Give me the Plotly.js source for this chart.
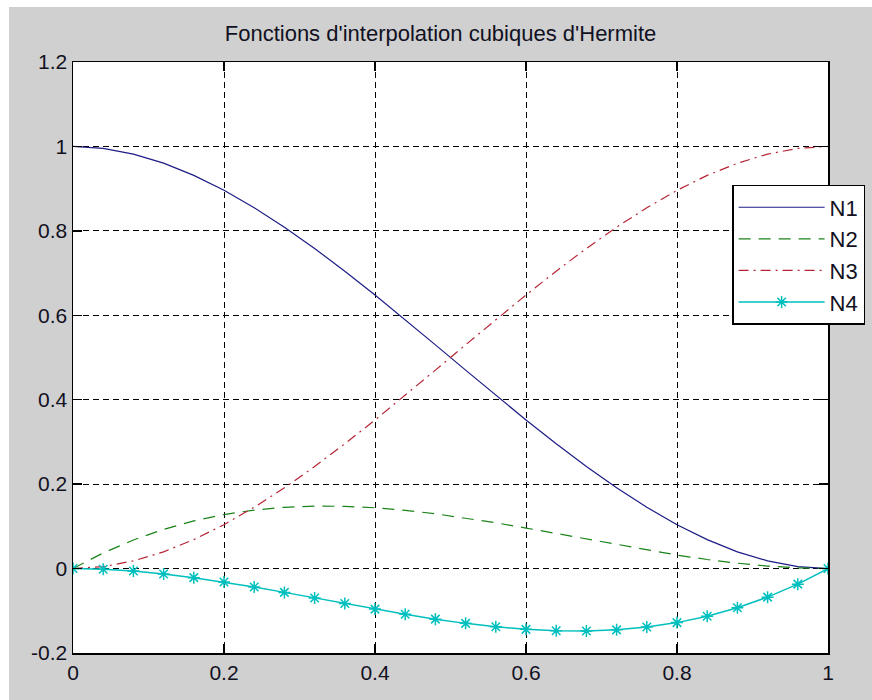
<!DOCTYPE html>
<html><head><meta charset="utf-8">
<script src="https://cdn.plot.ly/plotly-3.0.1.min.js"></script>
<style>
html,body{margin:0;padding:0;background:#ffffff;width:872px;height:700px;overflow:hidden;}
#chart{position:absolute;left:9px;top:7px;width:863px;height:693px;}
</style></head><body>
<div id="chart"></div>
<script>
const xs = [0,0.04,0.08,0.12,0.16,0.2,0.24,0.28,0.32,0.36,0.4,0.44,0.48,0.52,0.56,0.6,0.64,0.68,0.72,0.76,0.8,0.84,0.88,0.92,0.96,1];
const n1 = [1,0.9953,0.9818,0.9603,0.9314,0.896,0.8548,0.8087,0.7583,0.7045,0.648,0.5896,0.530,0.470,0.4104,0.352,0.2955,0.2417,0.1913,0.1452,0.104,0.0686,0.0397,0.0182,0.0047,0];
const n2 = [0,0.0369,0.0677,0.0929,0.1129,0.128,0.1386,0.1452,0.148,0.1475,0.144,0.138,0.1298,0.1198,0.1084,0.096,0.0829,0.0696,0.0564,0.0438,0.032,0.0215,0.0127,0.0059,0.0015,0];
const n3 = [0,0.0047,0.0182,0.0397,0.0686,0.104,0.1452,0.1913,0.2417,0.2955,0.352,0.4104,0.470,0.530,0.5896,0.648,0.7045,0.7583,0.8087,0.8548,0.896,0.9314,0.9603,0.9818,0.9953,1];
const n4 = [0,-0.0015,-0.0059,-0.0127,-0.0215,-0.032,-0.0438,-0.0564,-0.0696,-0.0829,-0.096,-0.1084,-0.1198,-0.1298,-0.138,-0.144,-0.1475,-0.148,-0.1452,-0.1386,-0.128,-0.1129,-0.0929,-0.0677,-0.0369,0];
const names = ["N1","N2","N3","N4"];
const xTicks = [0,0.2,0.4,0.6,0.8,1];
const xTickText = ["0","0.2","0.4","0.6","0.8","1"];
const yTicks = [-0.2,0,0.2,0.4,0.6,0.8,1,1.2];
const yTickText = ["-0.2","0","0.2","0.4","0.6","0.8","1","1.2"];
const titleText = "Fonctions d'interpolation cubiques d'Hermite";

const FONT = "Liberation Sans, Arial, sans-serif";
const traces = [
  {x: xs, y: n1, name: names[0], mode: "lines", line: {color: "#1c1c86", width: 1.2}},
  {x: xs, y: n2, name: names[1], mode: "lines", line: {color: "#1a841a", width: 1.2, dash: "12px,8px"}},
  {x: xs, y: n3, name: names[2], mode: "lines", line: {color: "#b52535", width: 1.2, dash: "10px,5px,2px,5px"}},
  {x: xs, y: n4, name: names[3], mode: "lines+markers", line: {color: "#00bfbf", width: 1.5},
   marker: {symbol: "asterisk-open", size: 10, color: "#00bfbf", line: {color: "#00bfbf", width: 1.5}}}
];
const axisCommon = {
  showline: true, linecolor: "#000000", linewidth: 1.5, mirror: "ticks",
  ticks: "inside", ticklen: 9, tickcolor: "#000000", tickwidth: 1.5,
  showgrid: true, gridcolor: "#000000", gridwidth: 1, griddash: "6px,4px",
  zeroline: false, tickfont: {family: FONT, size: 21, color: "#111122"}
};
const layout = {
  width: 863, height: 693,
  paper_bgcolor: "#d0d0d0", plot_bgcolor: "#ffffff",
  margin: {l: 64, r: 44, t: 55, b: 47, autoexpand: false},
  title: {text: titleText, x: 0.5, xanchor: "center", y: 0.9625, yanchor: "middle",
          font: {family: FONT, size: 22, color: "#111122"}},
  xaxis: Object.assign({}, axisCommon, {range: [0, 1], tickvals: xTicks, ticktext: xTickText}),
  yaxis: Object.assign({}, axisCommon, {range: [-0.2, 1.2], tickvals: yTicks, ticktext: yTickText}),
  showlegend: true,
  legend: {x: 0.873, y: 0.792, xanchor: "left", yanchor: "top", bgcolor: "#ffffff",
           bordercolor: "#000000", borderwidth: 1.5, itemwidth: 86,
           font: {family: FONT, size: 22, color: "#111122"},
           tracegroupgap: 0}
};
Plotly.newPlot("chart", traces, layout, {displayModeBar: false, staticPlot: true});
</script>
</body></html>
